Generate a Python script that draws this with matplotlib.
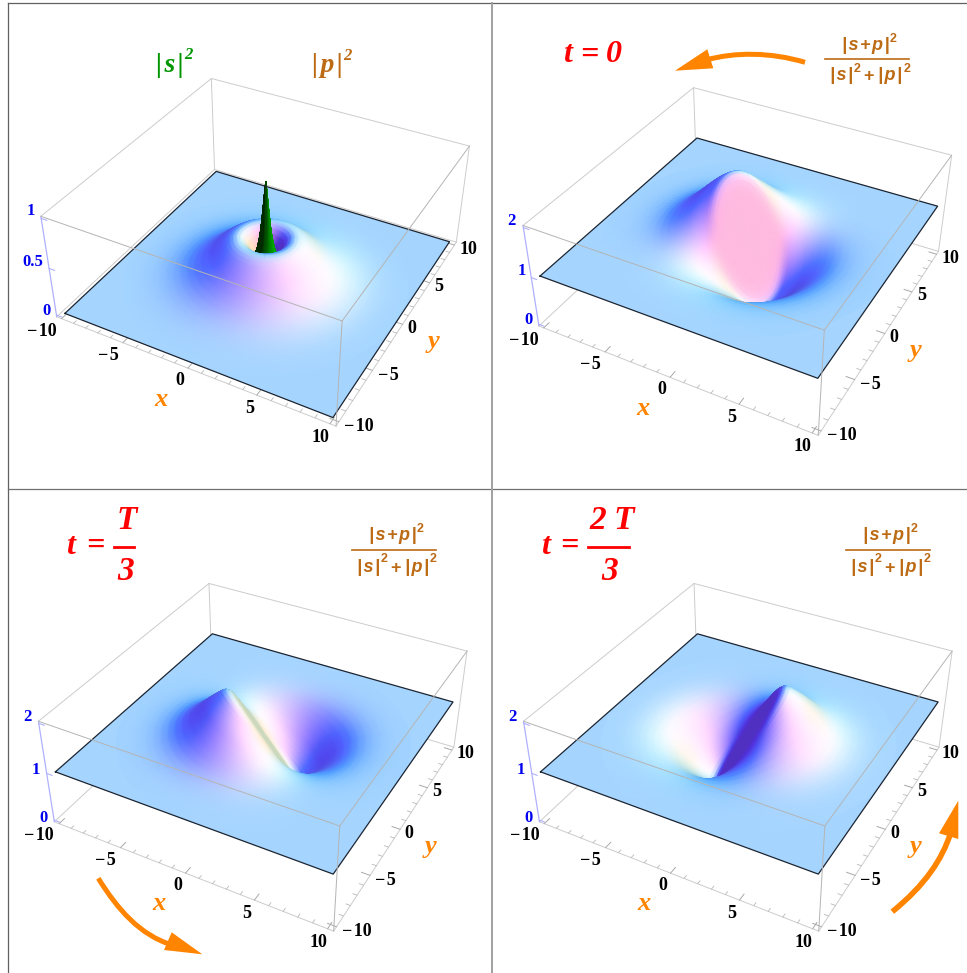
"""
Four panels: s and p densities, then the normalised s+p density at t = 0, T/3, 2T/3
Drawn on one pixel-sized axes, with a small camera projection for the 3D boxes.
"""

import numpy as np
import matplotlib
matplotlib.use("Agg")
import matplotlib.pyplot as plt
from matplotlib.path import Path
from matplotlib.patches import PathPatch

# radial profiles
radius = [0, 0.2, 0.4, 0.6, 0.8, 1, 1.25, 1.5, 1.75, 2, 2.25, 2.5, 2.75, 3, 3.25, 3.5, 3.75, 4, 4.5,
          5, 5.5, 6, 6.5, 7, 7.5, 8, 8.5, 9, 9.5, 10]
p_density = [0, 0.025, 0.083, 0.152, 0.221, 0.283, 0.345, 0.387, 0.41, 0.417, 0.411, 0.395,
             0.372, 0.345, 0.315, 0.285, 0.254, 0.224, 0.17, 0.125, 0.088, 0.06, 0.04, 0.025, 0.015,
             0.0085, 0.0045, 0.002, 0.0007, 0]
mix_amplitude = [0, 0.092, 0.184, 0.276, 0.368, 0.46, 0.575, 0.69, 0.8, 0.9, 0.98, 1, 0.97, 0.92,
                 0.87, 0.81, 0.75, 0.68, 0.54, 0.4, 0.28, 0.18, 0.115, 0.07, 0.042, 0.024, 0.013,
                 0.007, 0.003, 0]
spike_radius = [0, 0.03, 0.07, 0.12, 0.16, 0.2, 0.25, 0.3, 0.35, 0.42, 0.5, 0.6, 0.7, 0.8, 0.9]
s_density = [1, 0.95, 0.9, 0.82, 0.76, 0.7, 0.63, 0.56, 0.5, 0.43, 0.37, 0.3, 0.26, 0.22, 0.19]

# direction of the bump in each mixed panel, degrees in the xy plane
mix_phase = [141, 228, 18]

xy_major = [-10, -5, 0, 5, 10]
xy_minor = [-9, -8, -7, -6, -4, -3, -2, -1, 1, 2, 3, 4, 6, 7, 8, 9]
z_ticks = [[0, 0.5, 1], [0, 1, 2], [0, 1, 2], [0, 1, 2]]
z_tick_text = [["0", "0.5", "1"], ["0", "1", "2"], ["0", "1", "2"], ["0", "1", "2"]]
z_tops = [1, 2, 2, 2]

# where the panels sit in the picture
panel_shift = [(0, 0), (482.2, 9.2), (-2.4, 505), (482.7, 505)]
origin = (265.8, 230.3)
scale = 1030

x_label_pos = [(41.7, 331), (108, 355.7), (180, 380.3), (249.3, 408.3), (320.7, 437.3)]
y_label_pos = [(359.3, 426.7), (388, 375.7), (411.7, 328.3), (439, 286.7), (468, 249)]
z_label_pos = [[(46.7, 311), (32.7, 262.3), (30.7, 210.7)],
               [(46, 311), (40, 262), (29.5, 212)],
               [(45.7, 313.3), (38.4, 265), (29.7, 212.3)],
               [(45.7, 313.3), (38.4, 265), (29.7, 212.3)]]

ORANGE = "#ff8400"
BROWN = "#bc6a14"
BOX_GRAY = "#cccccc"
AXIS_BLUE = "#b0b0ff"
HAIR = "\u200a"

# camera
view_point = np.array([1.3, -2.4, 2.0])
fwd = -view_point / np.linalg.norm(view_point)
right = np.cross(fwd, [0, 0, 1])
right = right / np.linalg.norm(right)
up = np.cross(right, fwd)

# lights in screen coordinates
ambient = np.array([0.312, 0.188, 0.4])
lights = [(np.array([2, 0, 2.0]), np.array([0.8, 0, 0])),
          (np.array([2, 2, 2.0]), np.array([0, 0.8, 0])),
          (np.array([0, 2, 2.0]), np.array([0, 0, 0.8]))]

PAD = 10.4


def to_box(x, y, z, ztop):
    rng = ztop * 1.04
    return np.stack([np.asarray(x) / (2 * PAD) + 0 * np.asarray(z),
                     np.asarray(y) / (2 * PAD) + 0 * np.asarray(z),
                     (np.asarray(z) - ztop / 2) / rng * 0.4], axis=-1)


def project(x, y, z, ztop, shift):
    d = to_box(x, y, z, ztop) - view_point
    depth = d @ fwd
    return (origin[0] + shift[0] + scale * (d @ right) / depth,
            origin[1] + shift[1] - scale * (d @ up) / depth)


def shade(normals, base=(1, 1, 1)):
    n = normals / np.linalg.norm(normals, axis=-1, keepdims=True)
    view = np.stack([n @ right, n @ up, -(n @ fwd)], axis=-1)
    col = np.ones(n.shape) * ambient
    for direction, colour in lights:
        l = direction / np.linalg.norm(direction)
        col = col + np.clip(view @ l, 0, None)[..., None] * colour
    return np.clip(col * np.array(base), 0, 1)


def polar_surface(r, height, ztop, shift, base=(1, 1, 1), sectors="all"):
    """height(theta) gives a 2D array rows=radius, columns=angle"""
    r = np.asarray(r, dtype=float)
    theta = np.radians(np.arange(0, 360, 3.0))
    x = np.outer(r, np.cos(theta))
    y = np.outer(r, np.sin(theta))
    z = height(theta)
    pts = to_box(x, y, z, ztop)
    d_r = np.gradient(pts, axis=0)
    d_t = np.roll(pts, -1, axis=1) - np.roll(pts, 1, axis=1)
    normals = np.cross(d_r, d_t)
    normals[0] = normals[1]
    cols = shade(normals, base)
    px, py = project(x, y, z, ztop, shift)

    back = np.arctan2(-view_point[1], -view_point[0])
    mids = theta + np.radians(1.5)
    off = np.abs((mids - back + np.pi) % (2 * np.pi) - np.pi)
    for j in np.argsort(off):
        is_back = off[j] < np.pi / 2
        if sectors == "back" and not is_back:
            continue
        if sectors == "front" and is_back:
            continue
        k = (j + 1) % len(theta)
        rows = slice(None, None, -1) if is_back else slice(None)
        ax.pcolormesh(px[:, [j, k]][rows], py[:, [j, k]][rows], cols[:, [j, k]][rows],
                      shading="gouraud", zorder=3)


def line3d(a, b, ztop, shift, **kw):
    px, py = project(np.array([a[0], b[0]]), np.array([a[1], b[1]]),
                     np.array([a[2], b[2]]), ztop, shift)
    ax.plot(px, py, solid_capstyle="round", **kw)


def draw_box(i):
    ztop = z_tops[i]
    shift = panel_shift[i]
    lo = -0.02 * ztop
    hi = ztop * 1.02
    P = PAD
    grey = dict(color=BOX_GRAY, lw=0.7)

    # edges behind the surface
    for a, b in [((-P, P, lo), (P, P, lo)), ((-P, P, lo), (-P, -P, lo)),
                 ((-P, P, lo), (-P, P, hi)), ((P, P, lo), (P, P, hi)),
                 ((-P, P, hi), (P, P, hi)), ((-P, P, hi), (-P, -P, hi)),
                 ((-P, -P, lo), (P, -P, lo)), ((P, -P, lo), (P, P, lo))]:
        line3d(a, b, ztop, shift, zorder=1, **grey)
    line3d((-P, -P, lo), (-P, -P, hi), ztop, shift, color=AXIS_BLUE, lw=0.9, zorder=1)

    for v in xy_major:
        line3d((v, -P, lo), (v, -P + 0.6, lo), ztop, shift, color="#a8a8a8", lw=0.7, zorder=1)
        line3d((P, v, lo), (P - 0.6, v, lo), ztop, shift, color="#a8a8a8", lw=0.7, zorder=1)
    for v in xy_minor:
        line3d((v, -P, lo), (v, -P + 0.3, lo), ztop, shift, color="#b8b8b8", lw=0.6, zorder=1)
        line3d((P, v, lo), (P - 0.3, v, lo), ztop, shift, color="#b8b8b8", lw=0.6, zorder=1)
    for v in z_ticks[i]:
        line3d((-P, -P, v), (-P + 0.45, -P, v), ztop, shift, color=AXIS_BLUE, lw=0.8, zorder=1)


def draw_box_front(i):
    ztop = z_tops[i]
    shift = panel_shift[i]
    lo = -0.02 * ztop
    hi = ztop * 1.02
    P = PAD
    for a, b in [((-P, -P, hi), (P, -P, hi)), ((P, -P, hi), (P, P, hi)), ((P, -P, hi), (P, -P, lo))]:
        line3d(a, b, ztop, shift, color="#b4b4b4", lw=0.7, zorder=6)


def draw_plane(level, ztop, shift):
    xs = np.array([-10, 10, 10, -10, -10.0])
    ys = np.array([-10, -10, 10, 10, -10.0])
    px, py = project(xs, ys, np.full(5, float(level)), ztop, shift)
    flat = shade(np.cross(to_box(1, 0, level, ztop) - to_box(0, 0, level, ztop),
                          to_box(0, 1, level, ztop) - to_box(0, 0, level, ztop)))
    ax.fill(px, py, color=flat, lw=0, zorder=2)
    ax.plot(px, py, color="#1c2430", lw=0.9, zorder=5)


def tx(x, y, s, size, color, family="Liberation Serif", style="italic", weight="bold", z=8):
    ax.text(x, y, s, fontsize=size, color=color, family=family, style=style, weight=weight,
            ha="center", va="center", zorder=z)


def fraction(dx, dy):
    sans = dict(family="Liberation Sans")
    two = dict(style="normal", family="Liberation Sans")
    tx(865.7 + dx, 45 + dy, "|" + HAIR + "s" + HAIR + "+" + HAIR + "p" + HAIR + "|", 13, BROWN, **sans)
    tx(893.5 + dx, 38.5 + dy, "2", 9, BROWN, **two)
    ax.plot([825 + dx, 909.3 + dx], [59 + dy, 59 + dy], color=BROWN, lw=1.2, zorder=8)
    tx(841.7 + dx, 76 + dy, "|" + HAIR + "s" + HAIR + "|", 13, BROWN, **sans)
    tx(857 + dx, 68.5 + dy, "2", 9, BROWN, **two)
    tx(869 + dx, 77 + dy, "+", 13, BROWN, **two)
    tx(890.5 + dx, 76 + dy, "|" + HAIR + "p" + HAIR + "|", 13, BROWN, **sans)
    tx(906.7 + dx, 68.5 + dy, "2", 9, BROWN, **two)


def arrow(shaft, head, width):
    codes = [Path.MOVETO, Path.CURVE4, Path.CURVE4, Path.CURVE4]
    ax.add_patch(PathPatch(Path(shaft, codes), fill=False, edgecolor=ORANGE, lw=width,
                           capstyle="butt", zorder=7))
    hx, hy = zip(*head)
    ax.fill(hx, hy, color=ORANGE, lw=0, zorder=7)


fig = plt.figure(figsize=(9.67, 9.73), dpi=100)
ax = fig.add_axes([0, 0, 1, 1])
ax.set_xlim(0, 967)
ax.set_ylim(973, 0)
ax.axis("off")

# panel frames
ax.plot([7.5, 7.5], [3, 973], color="#606060", lw=0.9, zorder=9)
ax.plot([7.5, 967], [3, 3], color="#606060", lw=0.9, zorder=9)
ax.plot([7.5, 967], [489, 489], color="#707070", lw=0.9, zorder=9)
ax.plot([491.5, 491.5], [3, 973], color="#a0a0a0", lw=1.4, zorder=9)

for i in range(4):
    shift = panel_shift[i]
    ztop = z_tops[i]
    draw_box(i)

    if i == 0:
        draw_plane(0, ztop, shift)
        p_surface = lambda th: np.outer(p_density, np.ones_like(th))
        s_surface = lambda th: np.outer(s_density, np.ones_like(th))
        polar_surface(radius, p_surface, ztop, shift, sectors="back")
        polar_surface(spike_radius, s_surface, ztop, shift, base=(0, 0.85, 0))
        polar_surface(radius, p_surface, ztop, shift, sectors="front")
    else:
        draw_plane(1, ztop, shift)
        phase = np.radians(mix_phase[i - 1])
        mixed = lambda th, ph=phase: 1 + np.outer(mix_amplitude, np.cos(th - ph))
        polar_surface(radius, mixed, ztop, shift)

    draw_box_front(i)

    for pos, v in zip(x_label_pos, xy_major):
        tx(pos[0] + shift[0], pos[1] + shift[1], str(v).replace("-", "\u2212" + HAIR), 13, "black", style="normal")
    for pos, v in zip(y_label_pos, xy_major):
        tx(pos[0] + shift[0], pos[1] + shift[1], str(v).replace("-", "\u2212" + HAIR), 13, "black", style="normal")
    for pos, s in zip(z_label_pos[i], z_tick_text[i]):
        tx(pos[0] + shift[0], pos[1] + shift[1], s, 12, "#0000f0", style="normal")
    tx(161 + shift[0], 399 + shift[1], "x", 19, ORANGE)
    tx(433.3 + shift[0], 341.7 + shift[1], "y", 19, ORANGE)

# panel titles
tx(170, 65.7, "|" + HAIR + "s" + HAIR + "|", 20, "#009600")
tx(188.5, 55, "2", 12, "#009600")
tx(327, 65.7, "|" + HAIR + "p" + HAIR + "|", 20, BROWN)
tx(347.5, 56, "2", 12, BROWN)

tx(567, 55, "t", 23, "red")
tx(589, 55, "=", 23, "red")
tx(614, 55, "0", 23, "red")

tx(70.7, 546.7, "t", 23, "red")
tx(95, 546.7, "=", 23, "red")
tx(126.7, 520.7, "T", 24, "red")
ax.plot([114, 134], [546.7, 546.7], color="red", lw=2, zorder=8)
tx(126, 571, "3", 24, "red")

tx(545, 546.7, "t", 23, "red")
tx(569, 546.7, "=", 23, "red")
tx(611.7, 520.7, "2 T", 24, "red")
ax.plot([588.3, 629], [546.7, 546.7], color="red", lw=2, zorder=8)
tx(610, 571, "3", 24, "red")

fraction(0, 0)
fraction(-473.4, 491)
fraction(20.7, 491)

# rotation arrows
arrow([(805, 62.3), (770, 52), (735, 52), (706, 60)],
      [(675, 70.7), (707.3, 49.3), (713.3, 68.3)], 3.6)
arrow([(98.3, 878.3), (118, 910), (140, 935), (172, 945)],
      [(202.3, 954.3), (171.7, 932.3), (164, 950)], 3.6)
arrow([(892.3, 911.7), (925, 885), (942, 860), (951, 832)],
      [(958.3, 800.7), (939, 833.3), (958.3, 839)], 4)

fig.savefig("out.png", dpi=100)
